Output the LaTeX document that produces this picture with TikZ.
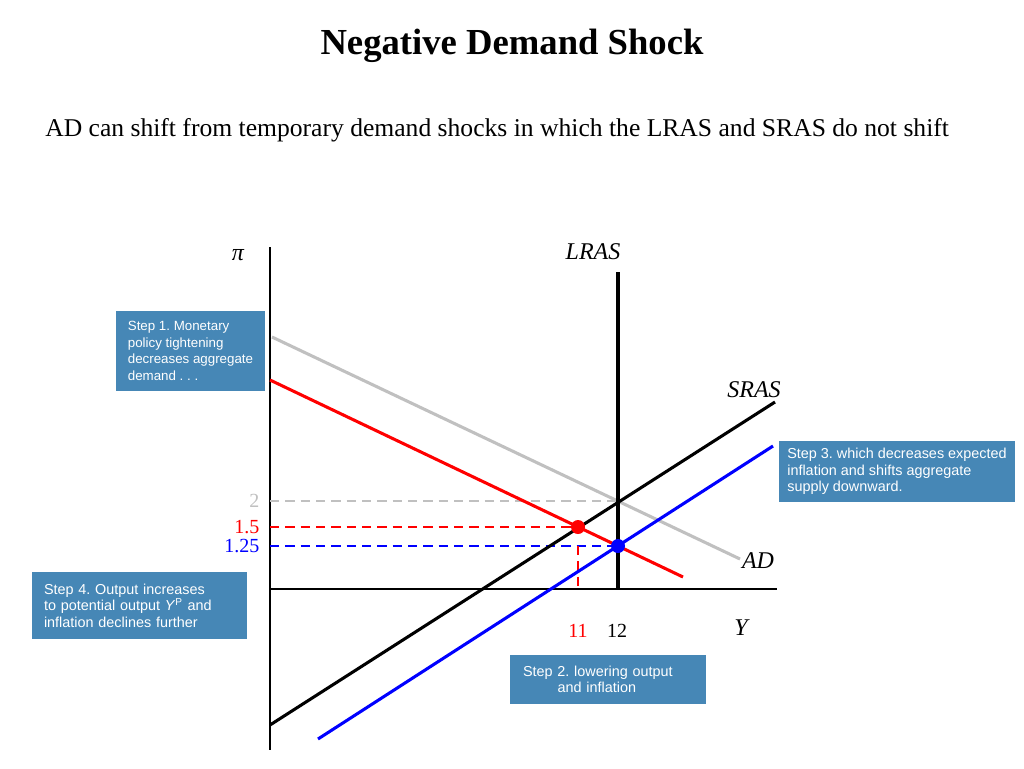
\documentclass[tikz,border=0pt]{standalone}
\usepackage{fontspec}
\setmainfont{Liberation Serif}
\setsansfont{Liberation Sans}
\frenchspacing
\definecolor{stepblue}{RGB}{70,135,182}
\definecolor{oldgrey}{RGB}{192,192,192}
\tikzstyle{curve}=[line width=2.3pt]
\tikzstyle{axis}=[line width=0.9pt]
\tikzstyle{guide}=[line width=1.4pt, dash pattern=on 7pt off 4.5pt]
\tikzstyle{stepbox}=[fill=stepblue, text=white, inner xsep=9pt, inner ysep=0pt,
  font=\sffamily\fontsize{10.8}{12.4}\selectfont]
\tikzstyle{eqdot}=[circle, inner sep=0pt, minimum size=10.5pt]
\tikzstyle{curve label}=[font=\fontsize{18}{18}\selectfont\itshape]
\tikzstyle{tick label}=[font=\fontsize{15}{15}\selectfont]

\begin{document}
\begin{tikzpicture}[x=0.75pt, y=-0.75pt]
  \useasboundingbox (0,0) rectangle (1024,768);
  \node[font=\fontsize{27.5}{30}\selectfont\bfseries] (title) at (512,46) {Negative Demand Shock};
  \node[font=\fontsize{19.2}{21}\selectfont, anchor=west, inner sep=0pt] (intro) at (45,130)
    {AD can shift from temporary demand shocks in which the LRAS and SRAS do not shift};

  % axes
  \coordinate (origin) at (270,589);
  \coordinate (ytop) at (270,247);
  \coordinate (ybot) at (270,750);
  \coordinate (xend) at (777,589);
  \draw[axis] (ytop) -- (ybot);
  \draw[axis] (origin) -- (xend);
  \node[curve label] (pi) at (238,255) {π};
  \node[curve label] (Y) at (741,628) {Y};

  % equilibria
  \coordinate (oldeq) at (618,501);
  \coordinate (shorteq) at (578,527);
  \coordinate (neweq) at (618,546);

  % dashed guides and values
  \coordinate (pi2) at (270,501);
  \coordinate (pi15) at (270,527);
  \coordinate (pi125) at (270,546);
  \draw[guide, oldgrey] (pi2) -- (oldeq);
  \draw[guide, red] (pi15) -- (shorteq);
  \draw[guide, blue] (pi125) -- (neweq);
  \draw[guide, red] (shorteq |- pi125) -- (shorteq |- origin);
  \node[tick label, text=oldgrey, anchor=east] (v2) at (264,501) {2};
  \node[tick label, text=red, anchor=east] (v15) at (264,527) {1.5};
  \node[tick label, text=blue, anchor=east] (v125) at (264,546) {1.25};
  \node[tick label, text=red] (v11) at (578,631) {11};
  \node[tick label] (v12) at (617,631) {12};

  % curves
  \coordinate (adold0) at (272,337);
  \coordinate (adold1) at (740,559);
  \coordinate (adnew0) at (270,380);
  \coordinate (adnew1) at (683,577);
  \coordinate (sras0) at (270,725);
  \coordinate (sras1) at (775,402);
  \coordinate (srasnew0) at (318,739);
  \coordinate (srasnew1) at (773,446);
  \coordinate (lrastop) at (618,272);
  \draw[curve, oldgrey] (adold0) -- (adold1);
  \draw[curve, red] (adnew0) -- (adnew1);
  \draw[curve] (sras0) -- (sras1);
  \draw[curve, blue] (srasnew0) -- (srasnew1);
  \draw[curve] (lrastop) -- (lrastop |- origin);
  \node[curve label] (lras) at (593,252) {LRAS};
  \node[curve label] (sras) at (754,390) {SRAS};
  \node[curve label] (ad) at (758,561) {AD};
  \node[eqdot, fill=red] (shortdot) at (shorteq) {};
  \node[eqdot, fill=blue] (newdot) at (neweq) {};

  % steps
  \node[stepbox, minimum width=111.75pt, minimum height=60pt, align=left,
    font=\sffamily\fontsize{10}{12.4}\selectfont] (step1) at (190.5,351)
    {Step 1. Monetary\\policy tightening\\decreases aggregate\\demand . . .};
  \node[stepbox, inner xsep=9.75pt, text width=127.5pt, minimum height=36.75pt, align=left] (step2) at (608,679.5)
    {Step 2. lowering output\\\hspace*{26pt}and inflation};
  \node[stepbox, inner xsep=6pt, minimum width=177pt, minimum height=45.75pt, align=left] (step3) at (897,471.5)
    {Step 3. which decreases expected\\inflation and shifts aggregate\\supply downward.};
  \node[stepbox, text width=143.25pt, minimum height=50.25pt, align=left] (step4) at (139.5,605.5)
    {Step 4. Output increases\\to potential output \textit{Y}\textsuperscript{P} and\\inflation declines further};
\end{tikzpicture}
\end{document}
